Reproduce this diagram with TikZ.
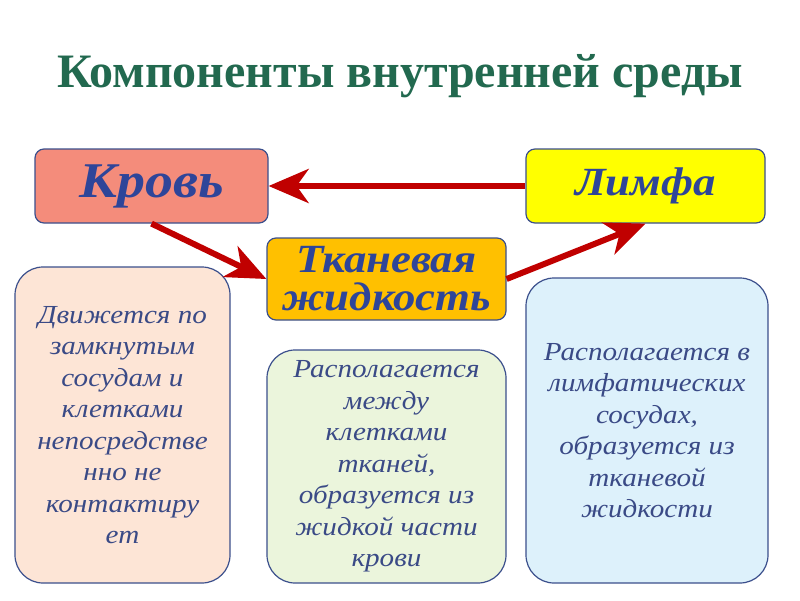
\documentclass[tikz,border=0pt]{standalone}
\usepackage{fontspec}
\setmainfont{Liberation Serif}
\newfontfamily\wideserif[FakeStretch=1.12]{Liberation Serif}
\usetikzlibrary{arrows.meta}
\definecolor{ttl}{HTML}{22694F}
\definecolor{bord}{HTML}{3B4F8C}
\definecolor{txtb}{HTML}{2E4599}
\definecolor{txtg}{HTML}{3A4A86}
\definecolor{krovf}{HTML}{F48C7B}
\definecolor{limfaf}{HTML}{FFFF00}
\definecolor{tkanf}{HTML}{FFC000}
\definecolor{peach}{HTML}{FDE5D6}
\definecolor{lgreen}{HTML}{EBF5DC}
\definecolor{lblue}{HTML}{DDF1FB}
\definecolor{arrred}{HTML}{C00000}
\begin{document}
\begin{tikzpicture}[x=1pt,y=-1pt,
  topbox/.style={draw=bord,line width=1.2pt,rounded corners=9pt,inner sep=0pt,align=center,text=txtb},
  infobox/.style={draw=bord,line width=1.2pt,rounded corners=28pt,inner sep=0pt,align=center,text=txtg,font=\wideserif\itshape\fontsize{26}{31.5}\selectfont},
  arr/.style={draw=arrred,line width=6pt,-{Stealth[length=40pt,width=34pt,inset=12pt]}}]
\useasboundingbox (0,0) rectangle (800,600);
\node[font=\bfseries\fontsize{48}{50}\selectfont,text=ttl] (title) at (400,76) {Компоненты внутренней среды};
\node[topbox,fill=krovf,minimum width=233pt,minimum height=74pt,font=\wideserif\bfseries\itshape\fontsize{50}{52}\selectfont] (krov) at (151.5,186) {Кровь};
\node[topbox,fill=limfaf,minimum width=239pt,minimum height=74pt,font=\wideserif\bfseries\itshape\fontsize{40}{44}\selectfont] (limfa) at (645.5,186) {Лимфа};
\node[topbox,fill=tkanf,minimum width=239pt,minimum height=82pt,font=\wideserif\bfseries\itshape\fontsize{40}{38}\selectfont] (tkan) at (386.5,279) {Тканевая\\жидкость};
\node[infobox,fill=peach,minimum width=215pt,minimum height=316pt] (left) at (122.5,425) {Движется по\\замкнутым\\сосудам и\\клетками\\непосредстве\\нно не\\контактиру\\ет};
\node[infobox,fill=lgreen,minimum width=239pt,minimum height=233pt] (mid) at (386.5,466.5) {Располагается\\между\\клетками\\тканей,\\образуется из\\жидкой части\\крови};
\node[infobox,fill=lblue,minimum width=242pt,minimum height=305pt] (right) at (647,430.5) {Располагается в\\лимфатических\\сосудах,\\образуется из\\тканевой\\жидкости};
\draw[arr] (limfa.west) -- (krov.east);
\draw[arr] (krov.south) -- (tkan.west);
\draw[arr] (tkan.east) -- (limfa.south);
\end{tikzpicture}
\end{document}
